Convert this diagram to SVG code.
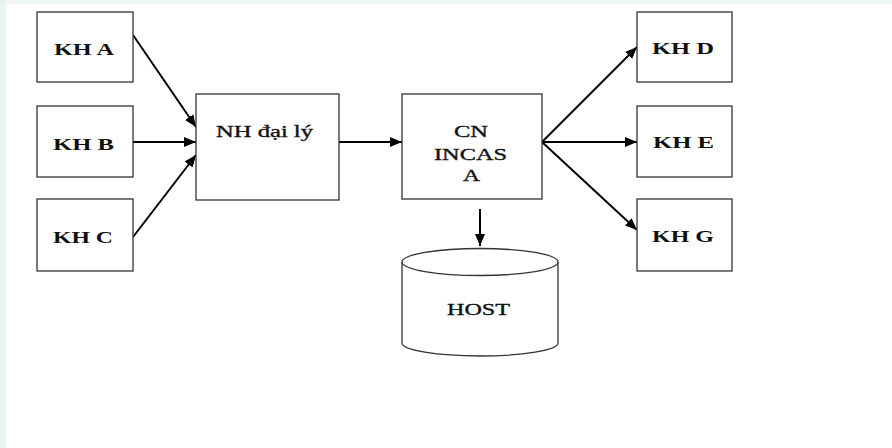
<svg xmlns="http://www.w3.org/2000/svg" width="892" height="448" viewBox="0 0 892 448">
<defs>
<style>
.box{fill:#ffffff;stroke:#333333;stroke-width:1.3}
.cyl{fill:#ffffff;stroke:#333333;stroke-width:1.3}
.lbl{font-family:"Liberation Serif","Times New Roman",serif;font-size:17px;fill:#111111;stroke:#111111;stroke-width:0.35;text-anchor:start}
.kh{font-weight:bold;stroke-width:0}
.conn{stroke:#000000;stroke-width:2;fill:none;marker-end:url(#arr)}
</style>
<marker id="arr" markerUnits="userSpaceOnUse" markerWidth="13" markerHeight="10" refX="12" refY="5" orient="auto">
<path d="M0,0 L12,5 L0,10 z" fill="#000000"/>
</marker>
</defs>
<rect x="0" y="0" width="892" height="448" fill="#ffffff"/>
<rect x="0" y="0" width="892" height="4" fill="#f0f7f7"/>
<rect x="0" y="0" width="6" height="448" fill="#e8f3f4"/>

<g id="connectors">
<line class="conn" x1="133" y1="35" x2="196" y2="127"/>
<line class="conn" x1="133" y1="142" x2="196" y2="142"/>
<line class="conn" x1="133" y1="237" x2="196" y2="155"/>
<line class="conn" x1="339" y1="142" x2="402" y2="142"/>
<line class="conn" x1="542" y1="142" x2="637" y2="47"/>
<line class="conn" x1="542" y1="142" x2="637" y2="142"/>
<line class="conn" x1="542" y1="142" x2="637" y2="230"/>
<line class="conn" x1="480" y1="209" x2="480" y2="246"/>
</g>

<g id="kh-a">
<rect class="box" x="37" y="12" width="96" height="70"/>
<text class="lbl kh" x="54" y="55" textLength="60" lengthAdjust="spacingAndGlyphs">KH A</text>
</g>
<g id="kh-b">
<rect class="box" x="37" y="106" width="96" height="71"/>
<text class="lbl kh" x="53" y="150" textLength="61" lengthAdjust="spacingAndGlyphs">KH B</text>
</g>
<g id="kh-c">
<rect class="box" x="37" y="199" width="96" height="72"/>
<text class="lbl kh" x="53" y="243" textLength="60" lengthAdjust="spacingAndGlyphs">KH C</text>
</g>
<g id="nh-dai-ly">
<rect class="box" x="196" y="94" width="143" height="106"/>
<text class="lbl" x="216" y="137" textLength="97" lengthAdjust="spacingAndGlyphs">NH đại lý</text>
</g>
<g id="cn-incas">
<rect class="box" x="402" y="94" width="140" height="105"/>
<text class="lbl" x="454" y="137" textLength="34" lengthAdjust="spacingAndGlyphs">CN</text>
<text class="lbl" x="434" y="160" textLength="73" lengthAdjust="spacingAndGlyphs">INCAS</text>
<text class="lbl" x="463" y="181" textLength="17" lengthAdjust="spacingAndGlyphs">A</text>
</g>
<g id="host">
<path class="cyl" d="M402,262 L402,343 A78,13 0 0 0 558,343 L558,262"/>
<ellipse class="cyl" cx="480" cy="262" rx="78" ry="13.5"/>
<text class="lbl" x="447" y="315" textLength="63" lengthAdjust="spacingAndGlyphs">HOST</text>
</g>
<g id="kh-d">
<rect class="box" x="637" y="12" width="95" height="70"/>
<text class="lbl kh" x="652" y="54" textLength="62" lengthAdjust="spacingAndGlyphs">KH D</text>
</g>
<g id="kh-e">
<rect class="box" x="637" y="106" width="95" height="71"/>
<text class="lbl kh" x="653" y="148" textLength="61" lengthAdjust="spacingAndGlyphs">KH E</text>
</g>
<g id="kh-g">
<rect class="box" x="637" y="199" width="95" height="72"/>
<text class="lbl kh" x="652" y="242" textLength="62" lengthAdjust="spacingAndGlyphs">KH G</text>
</g>
</svg>
